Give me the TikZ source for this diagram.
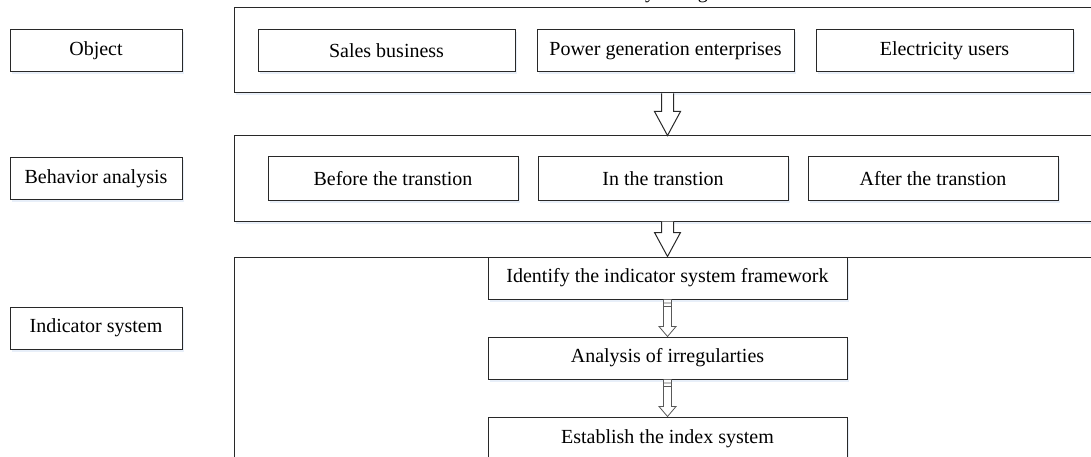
\documentclass[tikz,border=0pt]{standalone}
\usepackage{fontspec}
\setmainfont{Liberation Serif}
\usetikzlibrary{shadows,calc}
\definecolor{shade}{RGB}{232,239,249}
\definecolor{edge}{RGB}{40,40,40}
\tikzset{
  box/.style={draw=edge, line width=1pt, fill=white, inner sep=0pt,
    font=\fontsize{20}{24}\selectfont,
    drop shadow={shadow xshift=2pt, shadow yshift=-2.5pt, fill=shade, opacity=1}},
  leftbox/.style={box, minimum width=172pt, minimum height=42pt},
  frame/.style={box, minimum width=876pt},
  rowa/.style={box, minimum width=257pt, minimum height=42pt},
  rowb/.style={box, minimum width=250pt, minimum height=43pt},
  stepbox/.style={box, minimum width=359pt, minimum height=42pt},
  blockarrow/.style={draw=edge, line width=1pt, fill=white, line join=miter},
  thinarrow/.style={draw=black!65, line width=0.8pt, fill=white, line join=miter},
}
\newcommand\bigarrow[2]{\draw[blockarrow] let \p1=#1, \p2=#2 in
  (\x1-6pt,\y1) -- (\x1-6pt,\y2+24pt) -- (\x1-13pt,\y2+24pt) -- (\x1,\y2)
  -- (\x1+13pt,\y2+24pt) -- (\x1+6pt,\y2+24pt) -- (\x1+6pt,\y1);}
\newcommand\smallarrow[2]{\draw[thinarrow] let \p1=#1, \p2=#2 in
  (\x1-4pt,\y1) -- (\x1-4pt,\y2+10pt) -- (\x1-8.5pt,\y2+10pt) -- (\x1,\y2)
  -- (\x1+8.5pt,\y2+10pt) -- (\x1+4pt,\y2+10pt) -- (\x1+4pt,\y1)
  (\x1-4pt,\y1-3.5pt) -- (\x1+4pt,\y1-3.5pt)
  (\x1-4pt,\y1-7pt) -- (\x1+4pt,\y1-7pt);}
\begin{document}
\begin{tikzpicture}[x=1pt,y=-1pt]
\useasboundingbox (0,0) rectangle (1091,457);
\fill[white] (0,0) rectangle (1091,457);
% partially visible title
\node[anchor=base west, inner sep=0pt, font=\fontsize{20}{24}\selectfont] (title) at (645,-1) {y change};
% left labels
\node[leftbox] (obj) at (96,51) {Object};
\node[leftbox] (beh) at (96,178.5) {Behavior analysis};
\node[leftbox] (ind) at (96,328) {Indicator system};
% containers
\node[frame, minimum height=85pt] (c1) at (672,50.5) {};
\node[frame, minimum height=85pt] (c2) at (672,178.5) {};
\node[frame, minimum height=223pt] (c3) at (672,368.5) {};
% row 1
\node[rowa] (sales) at (386.5,51) {Sales business};
\node[rowa] (power) at (665.5,51) {Power generation enterprises};
\node[rowa] (users) at (944.5,51) {Electricity users};
% row 2
\node[rowb] (before) at (393,178.5) {Before the transtion};
\node[rowb] (inn) at (663,178.5) {In the transtion};
\node[rowb] (after) at (933,178.5) {After the transtion};
% steps
\node[stepbox] (id) at (667.5,278) {Identify the indicator system framework};
\node[stepbox] (an) at (667.5,358) {Analysis of irregularties};
\node[stepbox, minimum height=43pt] (es) at (667.5,438.5) {Establish the index system};
% arrows
\bigarrow{(c1.south -| id.north)}{(c2.north -| id.north)}
\bigarrow{(c2.south -| id.north)}{(id.north)}
\smallarrow{(id.south)}{(an.north)}
\smallarrow{(an.south)}{(es.north)}
\end{tikzpicture}
\end{document}
